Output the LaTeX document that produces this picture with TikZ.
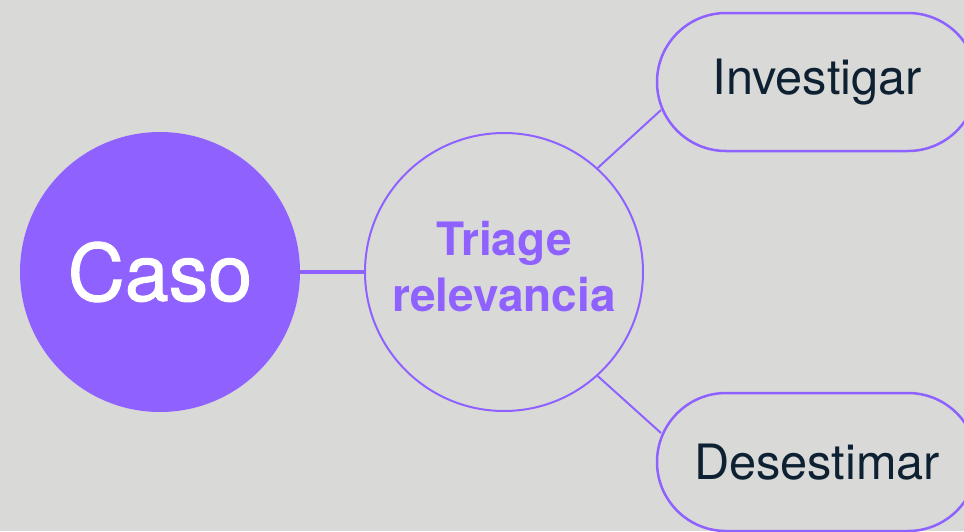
\documentclass[tikz,border=0pt]{standalone}
\usepackage{fontspec}
\setmainfont{TeX Gyre Heros}
\newfontfamily\casofont[FakeBold=1.2]{TeX Gyre Heros}
\definecolor{bg}{HTML}{D9D9D8}
\definecolor{vio}{HTML}{8F62FF}
\definecolor{ink}{HTML}{0E2132}
\begin{document}
\begin{tikzpicture}[x=1pt,y=-1pt,
  caso/.style={circle,fill=vio,inner sep=0,minimum size=280pt,text=white,font=\casofont\fontsize{79}{90}\selectfont},
  tri/.style={circle,draw=vio,line width=2pt,inner sep=0,minimum size=278pt},
  trilabel/.style={text=vio,align=center,font=\fontsize{46}{56}\selectfont\bfseries},
  pill/.style={rectangle,draw=vio,line width=2.5pt,rounded corners=69pt,minimum width=320pt,minimum height=138pt,text=ink,font=\fontsize{48.7}{55}\selectfont},
  link/.style={draw=vio,line width=2pt}]
\useasboundingbox (0,0) rectangle (964,531);
\fill[bg] (0,0) rectangle (964,531);
\clip (0,0) rectangle (964,531);
\node[caso] (caso) at (160,272) {Caso};
\node[tri] (tri) at (504,272) {};
\node[trilabel] (trit) at (504,267) {Triage\\relevancia};
\node[pill] (inv) at (817,82) {Investigar};
\node[pill] (des) at (817,462) {Desestimar};
\coordinate (ie) at (661,110);
\coordinate (de) at (661,433);
\draw[link,line width=4pt] (caso) -- (tri);
\draw[link] (tri.48.5) -- (ie);
\draw[link] (tri.-48.5) -- (de);
\end{tikzpicture}
\end{document}
